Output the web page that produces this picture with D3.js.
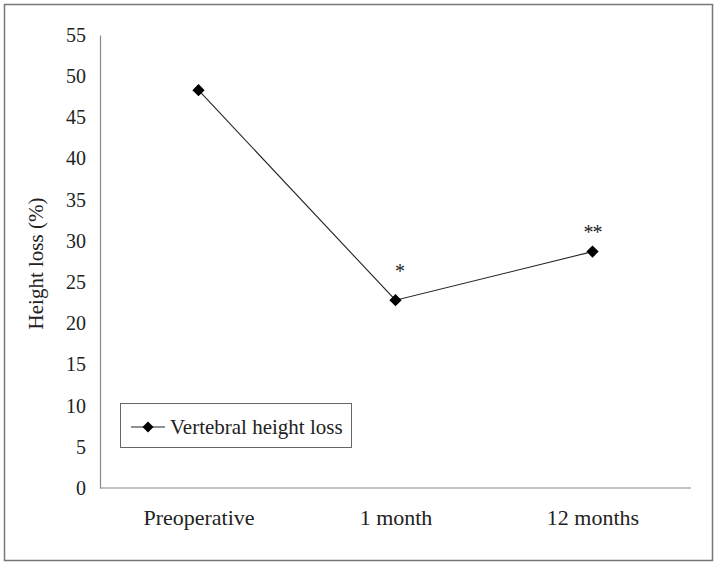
<!DOCTYPE html>
<html>
<head>
<meta charset="utf-8">
<script src="https://cdn.jsdelivr.net/npm/d3@7"></script>
<style>
  html, body { margin: 0; padding: 0; background: #fff; }
  svg { display: block; }
  text { font-family: "Liberation Serif", "DejaVu Serif", serif; fill: #222; }
</style>
</head>
<body>
<svg id="chart" width="717" height="567" font-family="Liberation Serif, serif"></svg>
<script>
const categories = ["Preoperative", "1 month", "12 months"];
const values = [48.3, 22.8, 28.7];
const yTicks = [0, 5, 10, 15, 20, 25, 30, 35, 40, 45, 50, 55];
const annotations = ["", "*", "**"];
const annotationValues = [null, 25.5, 30.2];
const seriesName = "Vertebral height loss";
const yTitle = "Height loss (%)";

(function () {
const svg = d3.select("#chart");
const serif = "Liberation Serif, serif";

// outer frame
svg.append("rect").attr("x", 4.5).attr("y", 4.5).attr("width", 708).attr("height", 556)
  .attr("fill", "none").attr("stroke", "#777").attr("stroke-width", 1.5);

const plotLeft = 100, plotRight = 691, plotTop = 35, plotBottom = 488;

const x = d3.scalePoint().domain(categories).range([plotLeft, plotRight]).padding(0.5);
const y = d3.scaleLinear().domain([0, 55]).range([plotBottom, plotTop]);

// y axis
const yAxis = svg.append("g").attr("transform", `translate(${plotLeft},0)`)
  .call(d3.axisLeft(y).tickValues(yTicks).tickSize(0).tickPadding(14).tickFormat(d3.format("d")));
yAxis.attr("font-family", serif).attr("font-size", 20);
yAxis.select(".domain").attr("stroke", "#888").attr("stroke-width", 1.2);
yAxis.selectAll("text").attr("fill", "#222");

// x axis
const xAxis = svg.append("g").attr("transform", `translate(0,${plotBottom})`)
  .call(d3.axisBottom(x).tickSize(0).tickPadding(21));
xAxis.attr("font-family", serif).attr("font-size", 22);
xAxis.select(".domain").attr("stroke", "#888").attr("stroke-width", 1.2)
  .attr("d", `M${plotLeft},0H${plotRight}`);
xAxis.selectAll("text").attr("fill", "#222");

// y title
svg.append("text")
  .attr("transform", `translate(43,${(plotTop + plotBottom) / 2 + 2}) rotate(-90)`)
  .attr("text-anchor", "middle")
  .attr("font-family", serif)
  .attr("font-size", 21)
  .text(yTitle);

// line
const line = d3.line().x((d, i) => x(categories[i])).y(d => y(d));
svg.append("path").datum(values).attr("d", line)
  .attr("fill", "none").attr("stroke", "#222").attr("stroke-width", 1.1);

// markers
svg.selectAll(".pt").data(values).join("path").attr("class", "pt")
  .attr("transform", (d, i) => `translate(${x(categories[i])},${y(d)}) rotate(45)`)
  .attr("d", d3.symbol().type(d3.symbolSquare).size(75))
  .attr("fill", "#000");

// annotations
svg.selectAll(".ann").data(annotations).join("text").attr("class", "ann")
  .attr("x", (d, i) => x(categories[i]) + (i === 1 ? 4 : 0))
  .attr("y", (d, i) => annotationValues[i] == null ? 0 : y(annotationValues[i]))
  .attr("text-anchor", "middle")
  .attr("font-family", serif)
  .attr("font-size", 20)
  .style("letter-spacing", "-1px")
  .text(d => d);

// legend
const lg = svg.append("g");
lg.append("rect").attr("x", 120.5).attr("y", 403.5).attr("width", 231).attr("height", 44)
  .attr("fill", "#fff").attr("stroke", "#666").attr("stroke-width", 1);
lg.append("line").attr("x1", 131).attr("x2", 165).attr("y1", 427).attr("y2", 427)
  .attr("stroke", "#222").attr("stroke-width", 1.1);
lg.append("path").attr("transform", "translate(148,427) rotate(45)")
  .attr("d", d3.symbol().type(d3.symbolSquare).size(60)).attr("fill", "#000");
lg.append("text").attr("x", 170).attr("y", 434).attr("font-family", serif)
  .attr("font-size", 21).text(seriesName);
})();
</script>
</body>
</html>
